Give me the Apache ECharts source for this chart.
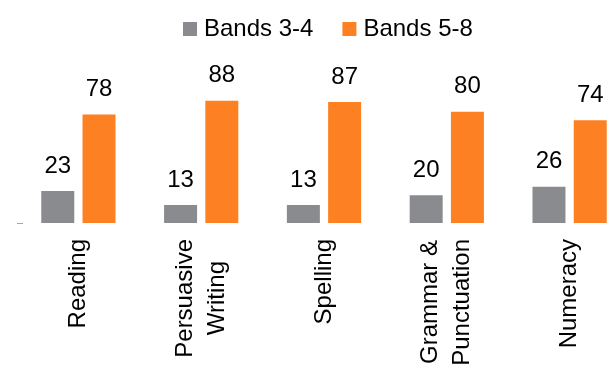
<!DOCTYPE html>
<html>
<head>
<meta charset="utf-8">
<script src="https://cdn.jsdelivr.net/npm/echarts@6/dist/echarts.min.js"></script>
<style>
  html, body { margin: 0; padding: 0; background: #ffffff; }
  #chart { width: 615px; height: 372px; }
</style>
</head>
<body>
<div id="chart"></div>
<script>
// Subject areas and the share of students in each band group
const categories = ['Reading', 'Persuasive\nWriting', 'Spelling', 'Grammar &\nPunctuation', 'Numeracy'];
const bands34 = [23, 13, 13, 20, 26];
const bands58 = [78, 88, 87, 80, 74];
const seriesNames = ['Bands 3-4', 'Bands 5-8'];

const FONT = '"Liberation Sans", Arial, sans-serif';
const GREY = '#8a8b8f';
const ORANGE = '#fd8023';

// Multi-line category labels: keep lines centred on each other while the
// block as a whole sits against the axis.
const measureCtx = document.createElement('canvas').getContext('2d');
measureCtx.font = '24px ' + FONT;
function centredLines(text) {
  const lines = text.split('\n');
  if (lines.length === 1) return '{t|' + text + '}';
  const widths = lines.map(l => measureCtx.measureText(l).width);
  const maxW = Math.max.apply(null, widths);
  return lines.map((l, i) => {
    const pad = Math.round((maxW - widths[i]) / 2);
    return '{p' + pad + '|' + l + '}';
  }).join('\n');
}
const rich = { t: { fontSize: 24, fontFamily: FONT, color: '#000', lineHeight: 32 } };
categories.forEach(c => {
  const lines = c.split('\n');
  if (lines.length > 1) {
    const widths = lines.map(l => measureCtx.measureText(l).width);
    const maxW = Math.max.apply(null, widths);
    widths.forEach(w => {
      const pad = Math.round((maxW - w) / 2);
      rich['p' + pad] = { fontSize: 24, fontFamily: FONT, color: '#000', lineHeight: 32, padding: [0, pad, 0, 0] };
    });
  }
});

const chart = echarts.init(document.getElementById('chart'), null, { renderer: 'canvas' });

const barLabel = {
  show: true,
  position: 'top',
  distance: 13,
  color: '#000',
  fontSize: 24,
  fontFamily: FONT
};

chart.setOption({
  animation: false,
  backgroundColor: '#ffffff',
  textStyle: { fontFamily: FONT },
  legend: {
    data: seriesNames,
    left: 178,
    top: 12,
    icon: 'rect',
    itemWidth: 14,
    itemHeight: 14,
    itemGap: 29,
    textStyle: { fontSize: 24, color: '#000', fontFamily: FONT, padding: [0, 0, 0, 2] }
  },
  // the last category runs past the right edge of the canvas
  grid: {
    left: 17,
    width: 614,
    top: 84,
    bottom: 149,
    containLabel: false,
    outerBoundsMode: 'none'
  },
  xAxis: {
    type: 'category',
    data: categories,
    axisLine: { show: false },
    axisTick: { show: false },
    axisLabel: {
      interval: 0,
      rotate: 90,
      margin: 16,
      fontSize: 24,
      lineHeight: 32,
      color: '#000',
      fontFamily: FONT,
      formatter: centredLines,
      rich: rich
    }
  },
  yAxis: {
    type: 'value',
    min: 0,
    max: 100,
    interval: 100,
    axisLine: { show: false },
    axisLabel: { show: false },
    splitLine: { show: false },
    axisTick: {
      show: true,
      inside: true,
      length: 6,
      customValues: [0],
      lineStyle: { color: '#a6a6a6', width: 1 }
    }
  },
  series: [
    {
      name: seriesNames[0],
      type: 'bar',
      data: bands34,
      barWidth: 33,
      barGap: '25%',
      itemStyle: { color: GREY },
      label: barLabel
    },
    {
      name: seriesNames[1],
      type: 'bar',
      data: bands58,
      barWidth: 33,
      barGap: '25%',
      itemStyle: { color: ORANGE },
      label: barLabel
    }
  ]
});
</script>
</body>
</html>
